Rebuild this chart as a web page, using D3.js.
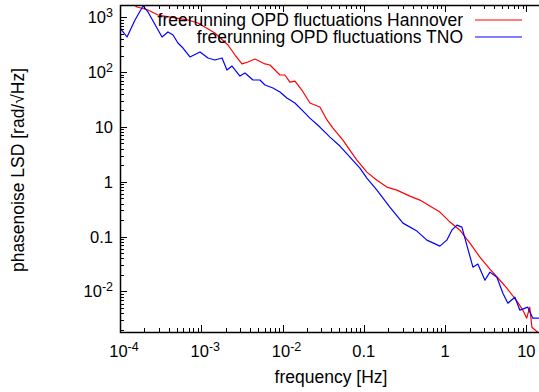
<!DOCTYPE html>
<html>
<head>
<meta charset="utf-8">
<script src="https://d3js.org/d3.v7.min.js"></script>
<style>
    body { margin: 0; background: #fff; }
    svg { display: block; font-family: "Liberation Sans", Arial, sans-serif; }
</style>
</head>
<body>
<svg id="vis" width="539" height="392"></svg>
<script>
// phase noise spectra (frequency in Hz, LSD in rad/sqrt(Hz))
const hannoverFreq = [1.15e-4, 1.62e-4, 2.21e-4, 2.93e-4, 4.75e-4, 6.85e-4, 9.1e-4, 1.47e-3, 2.13e-3, 2.6e-3,
    3.17e-3, 3.75e-3, 4.58e-3, 6.08e-3, 7.0e-3, 9.29e-3, 1.07e-2, 1.23e-2, 1.42e-2, 1.73e-2,
    2.17e-2, 2.88e-2, 3.52e-2, 4.17e-2, 5.53e-2, 7.14e-2, 8.22e-2, 0.109, 0.145, 0.192,
    0.255, 0.369, 0.49, 0.65, 0.863, 1.15, 1.52, 2.02, 2.68, 3.56,
    4.72, 5.75, 7.64, 9.06, 10.1, 11.0, 11.7, 13.8, 16.9];
const hannoverLSD = [2250, 1540, 1360, 1100, 972, 893, 787, 516, 312, 205,
    141, 153, 173, 141, 135, 88.5, 88.5, 65.9, 68.7, 47.1,
    27.3, 23.1, 13.4, 9.55, 5.77, 3.34, 2.49, 1.5, 1.07, 0.8,
    0.705, 0.548, 0.463, 0.36, 0.28, 0.184, 0.131, 0.076, 0.0422, 0.0255,
    0.016, 0.0115, 0.00664, 0.00455, 0.00325, 0.00516, 0.00222, 0.0018, 0.00152];

const tnoFreq = [1.0e-4, 1.22e-4, 1.53e-4, 1.92e-4, 2.21e-4, 2.85e-4, 3.29e-4, 3.89e-4, 4.49e-4, 5.16e-4,
    5.96e-4, 7.26e-4, 9.64e-4, 1.21e-3, 1.47e-3, 1.8e-3, 2.07e-3, 2.39e-3, 2.99e-3, 3.45e-3,
    4.33e-3, 5.27e-3, 6.08e-3, 7.62e-3, 9.29e-3, 1.13e-2, 1.42e-2, 1.89e-2, 2.17e-2, 2.88e-2,
    3.83e-2, 5.08e-2, 6.75e-2, 8.95e-2, 0.109, 0.145, 0.209, 0.303, 0.45, 0.597,
    0.863, 1.05, 1.21, 1.4, 1.61, 1.85, 2.2, 2.53, 3.09, 3.56,
    4.34, 5.14, 5.92, 7.22, 8.32, 10.4, 12.0, 13.8, 16.9];
const tnoLSD = [638, 437, 893, 1607, 1250, 638, 437, 540, 476, 340,
    275, 189, 233, 181, 166, 181, 109, 129, 84.9, 96.2,
    71.8, 71.8, 58.2, 51.3, 43.4, 33.7, 27.3, 17.9, 14.5, 9.95,
    6.53, 4.48, 2.82, 1.78, 1.17, 0.705, 0.345, 0.176, 0.126, 0.0861,
    0.067, 0.0861, 0.131, 0.162, 0.149, 0.0699, 0.0277, 0.0315, 0.016, 0.0225,
    0.0182, 0.00929, 0.0061, 0.00785, 0.00455, 0.00516, 0.00325, 0.00325, 0.0032];

const seriesNames = ["freerunning OPD fluctuations Hannover", "freerunning OPD fluctuations TNO"];
const seriesColors = ["#ff0000", "#0000ff"];

const xMajor = [1e-4, 1e-3, 1e-2, 0.1, 1, 10];
const xLabels = [["10", "-4"], ["10", "-3"], ["10", "-2"], ["0.1", ""], ["1", ""], ["10", ""]];
const yMajor = [1e3, 1e2, 10, 1, 0.1, 0.01];
const yLabels = [["10", "3"], ["10", "2"], ["10", ""], ["1", ""], ["0.1", ""], ["10", "-2"]];

const svg = d3.select('#vis');
const LEFT = 120, RIGHT = 539, TOP = 5, BOTTOM = 332;

var x = d3.scaleLog().domain([1e-4, 14.3]).range([LEFT, RIGHT]);
var y = d3.scaleLog().domain([0.00182, 1675]).range([BOTTOM, TOP]);

// minor ticks 2..9 of every decade
function minorTicks(scale) {
    var d = scale.domain(), out = [];
    for (var e = Math.floor(Math.log10(d[0])); e <= Math.ceil(Math.log10(d[1])); e++) {
        for (var m = 1; m < 10; m++) {
            var v = m * Math.pow(10, e);
            if (v >= d[0] && v <= d[1]) out.push({v: v, major: m === 1});
        }
    }
    return out;
}

svg.append("clipPath").attr("id", "clip")
    .append("rect")
    .attr("x", LEFT).attr("y", TOP)
    .attr("width", RIGHT - LEFT).attr("height", BOTTOM - TOP);

var line = d3.line()
    .x(function (d) { return x(d[0]); })
    .y(function (d) { return y(d[1]); });

var data = [d3.zip(hannoverFreq, hannoverLSD), d3.zip(tnoFreq, tnoLSD)];

svg.append("g").attr("clip-path", "url(#clip)")
    .selectAll("path")
    .data(data)
    .enter().append("path")
    .attr("d", line)
    .attr("fill", "none")
    .attr("stroke", function (d, i) { return seriesColors[i]; })
    .attr("stroke-width", 1.2)
    .attr("stroke-linejoin", "round");

// ticks (inward, mirrored on top)
var ticks = svg.append("g").attr("stroke", "#000").attr("stroke-width", 1);
minorTicks(x).forEach(function (t) {
    var len = t.major ? 7 : 4;
    var px = Math.round(x(t.v)) + 0.5;
    ticks.append("line").attr("x1", px).attr("x2", px).attr("y1", BOTTOM).attr("y2", BOTTOM - len);
    ticks.append("line").attr("x1", px).attr("x2", px).attr("y1", TOP).attr("y2", TOP + len);
});
minorTicks(y).forEach(function (t) {
    var len = t.major ? 7 : 4;
    var py = Math.round(y(t.v)) + 0.5;
    ticks.append("line").attr("x1", LEFT).attr("x2", LEFT + len).attr("y1", py).attr("y2", py);
});

// border
svg.append("path")
    .attr("d", "M" + RIGHT + "," + (TOP + 0.5) + "H" + (LEFT + 0.5) + "V" + (BOTTOM + 0.5) + "H" + RIGHT)
    .attr("fill", "none")
    .attr("stroke", "#000")
    .attr("stroke-width", 1.5);

// tick labels
function label(g, parts) {
    g.append("tspan").text(parts[0]);
    if (parts[1]) {
        g.append("tspan").attr("dy", -6).attr("font-size", 12.5).text(parts[1]);
    }
}

xMajor.forEach(function (v, i) {
    var t = svg.append("text")
        .attr("x", x(v) + (xLabels[i][1] ? 4 : 0))
        .attr("y", 357)
        .attr("text-anchor", "middle")
        .attr("font-size", 16.5)
        .attr("fill", "#000");
    label(t, xLabels[i]);
});

yMajor.forEach(function (v, i) {
    var t = svg.append("text")
        .attr("x", 113)
        .attr("y", y(v) + 6)
        .attr("text-anchor", "end")
        .attr("font-size", 16.5)
        .attr("fill", "#000");
    label(t, yLabels[i]);
});

// axis titles
svg.append("text")
    .attr("x", 331).attr("y", 383)
    .attr("text-anchor", "middle")
    .attr("font-size", 17.5)
    .text("frequency [Hz]");

svg.append("text")
    .attr("transform", "translate(24,170) rotate(-90)")
    .attr("text-anchor", "middle")
    .attr("font-size", 17.5)
    .text("phasenoise LSD [rad/\u221AHz]");

// legend
var legend = svg.selectAll(".legend")
    .data(seriesNames)
    .enter().append("g")
    .attr("class", "legend")
    .attr("transform", function (d, i) { return "translate(0," + (20 + i * 17) + ")"; });

legend.append("text")
    .attr("x", 463).attr("y", 6)
    .attr("text-anchor", "end")
    .attr("font-size", 17.5)
    .text(function (d) { return d; });

legend.append("line")
    .attr("x1", 475).attr("x2", 522)
    .attr("stroke", function (d, i) { return seriesColors[i]; })
    .attr("stroke-width", 1.2);
</script>
</body>
</html>
